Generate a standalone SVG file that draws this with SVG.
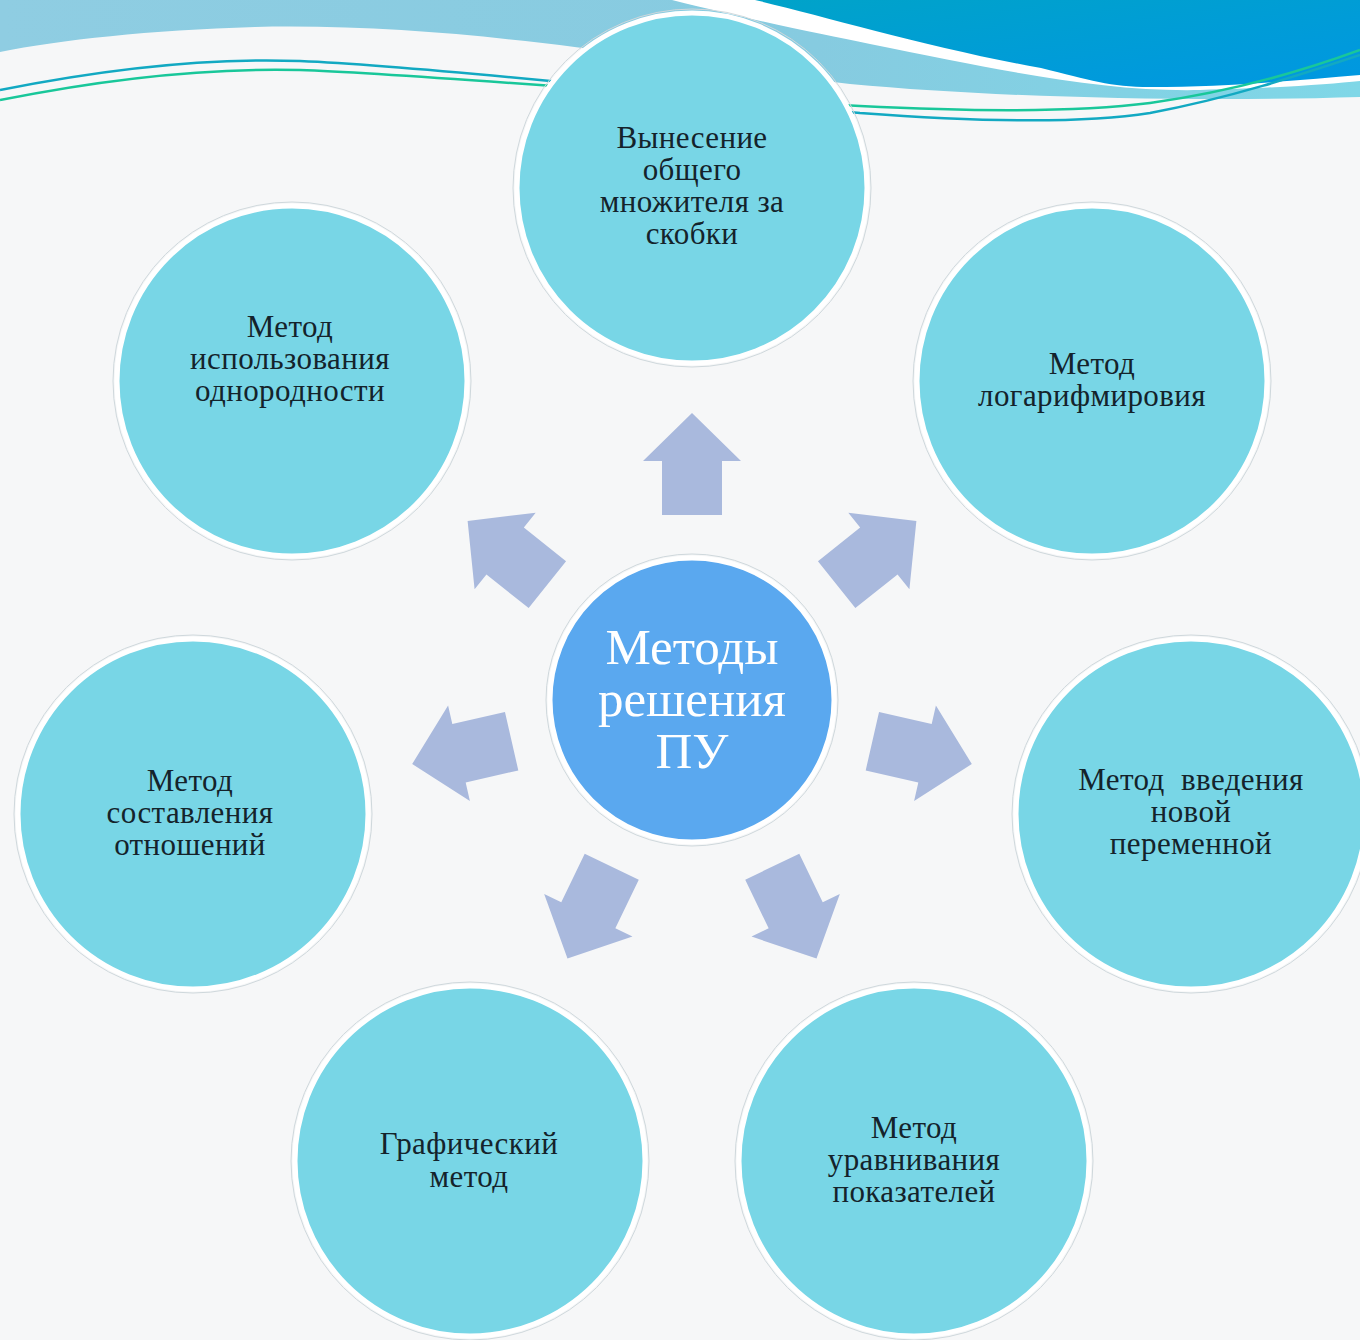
<svg xmlns="http://www.w3.org/2000/svg" width="1360" height="1340" viewBox="0 0 1360 1340">
<style>
.bg{fill:#f6f7f8}
.node{fill:#78d6e6;stroke:#ffffff;stroke-width:5}
.rim{fill:none;stroke:#cfd8dc;stroke-width:1}
.hub{fill:#5aa8ef;stroke:#ffffff;stroke-width:5}
.t{font-family:"Liberation Serif","DejaVu Serif",serif;font-size:31px;letter-spacing:0.4px;fill:#14232b;text-anchor:middle}
.ht{font-family:"Liberation Serif","DejaVu Serif",serif;font-size:51px;fill:#ffffff;text-anchor:middle}
.arrow{fill:#a9b9dd}
</style>
<defs>
<linearGradient id="lb" x1="0" y1="0" x2="1" y2="0">
<stop offset="0" stop-color="#8fcde2"/>
<stop offset="0.6" stop-color="#86cbe0"/>
<stop offset="1" stop-color="#7fd7e7"/>
</linearGradient>
<linearGradient id="db" x1="0" y1="0" x2="1" y2="1">
<stop offset="0" stop-color="#00a3c9"/>
<stop offset="1" stop-color="#0097e2"/>
</linearGradient>
<polygon id="arr" points="-30,-185 -30,-239 -49,-239 0,-287 49,-239 30,-239 30,-185"/>
</defs>
<rect class="bg" x="0" y="0" width="1360" height="1340"/>
<g id="header">
<path fill="url(#lb)" d="M0,0 H1360 V97 C1200,102 1000,98 850,84 C700,68 480,22 255,27 C150,30 60,40 0,52 Z"/>
<path fill="#ffffff" d="M672,0 C760,22 820,34 870,44 C1000,70 1100,92 1200,90 C1280,88 1330,84 1360,81 V0 Z"/>
<path fill="url(#db)" d="M755,0 C820,15 930,48 1041,68 C1090,80 1110,87 1150,87 C1230,87 1300,80 1360,75 V0 Z"/>
<path fill="none" stroke="#12a9c2" stroke-width="2.5" d="M0,90 C120,66 220,58 300,61 C420,66 700,96 860,113 C980,122 1080,124 1150,113 C1230,98 1300,75 1360,55"/>
<path fill="none" stroke="#19c79a" stroke-width="2.5" d="M0,100 C120,76 220,68 300,70 C420,74 700,99 860,106 C980,112 1080,112 1150,103 C1230,92 1300,72 1360,50"/>
</g>
<g id="connectors">
<use href="#arr" class="arrow" transform="translate(692,700) rotate(0)"/>
<use href="#arr" class="arrow" transform="translate(692,700) rotate(51.43)"/>
<use href="#arr" class="arrow" transform="translate(692,700) rotate(102.86)"/>
<use href="#arr" class="arrow" transform="translate(692,700) rotate(154.29)"/>
<use href="#arr" class="arrow" transform="translate(692,700) rotate(205.71)"/>
<use href="#arr" class="arrow" transform="translate(692,700) rotate(257.14)"/>
<use href="#arr" class="arrow" transform="translate(692,700) rotate(308.57)"/>
</g>
<g id="hub">
<circle class="rim" cx="692" cy="700" r="146"/>
<circle class="hub" cx="692" cy="700" r="142"/>
<text class="ht" x="692" y="664">Методы</text>
<text class="ht" x="692" y="716">решения</text>
<text class="ht" x="692" y="768">ПУ</text>
</g>
<g id="node-top">
<circle class="rim" cx="692" cy="188" r="179"/>
<circle class="node" cx="692" cy="188" r="175"/>
<text class="t" x="692" y="148">Вынесение</text>
<text class="t" x="692" y="180">общего</text>
<text class="t" x="692" y="212">множителя за</text>
<text class="t" x="692" y="244">скобки</text>
</g>
<g id="node-upper-right">
<circle class="rim" cx="1092" cy="381" r="179"/>
<circle class="node" cx="1092" cy="381" r="175"/>
<text class="t" x="1092" y="374">Метод</text>
<text class="t" x="1092" y="406">логарифмировия</text>
</g>
<g id="node-right">
<circle class="rim" cx="1191" cy="814" r="179"/>
<circle class="node" cx="1191" cy="814" r="175"/>
<text class="t" x="1191" y="790" xml:space="preserve">Метод  введения</text>
<text class="t" x="1191" y="822">новой</text>
<text class="t" x="1191" y="854">переменной</text>
</g>
<g id="node-lower-right">
<circle class="rim" cx="914" cy="1161" r="179"/>
<circle class="node" cx="914" cy="1161" r="175"/>
<text class="t" x="914" y="1138">Метод</text>
<text class="t" x="914" y="1170">уравнивания</text>
<text class="t" x="914" y="1202">показателей</text>
</g>
<g id="node-lower-left">
<circle class="rim" cx="470" cy="1161" r="179"/>
<circle class="node" cx="470" cy="1161" r="175"/>
<text class="t" x="469" y="1154">Графический</text>
<text class="t" x="469" y="1187">метод</text>
</g>
<g id="node-left">
<circle class="rim" cx="193" cy="814" r="179"/>
<circle class="node" cx="193" cy="814" r="175"/>
<text class="t" x="190" y="791">Метод</text>
<text class="t" x="190" y="823">составления</text>
<text class="t" x="190" y="855">отношений</text>
</g>
<g id="node-upper-left">
<circle class="rim" cx="292" cy="381" r="179"/>
<circle class="node" cx="292" cy="381" r="175"/>
<text class="t" x="290" y="337">Метод</text>
<text class="t" x="290" y="369">использования</text>
<text class="t" x="290" y="401">однородности</text>
</g>
</svg>
